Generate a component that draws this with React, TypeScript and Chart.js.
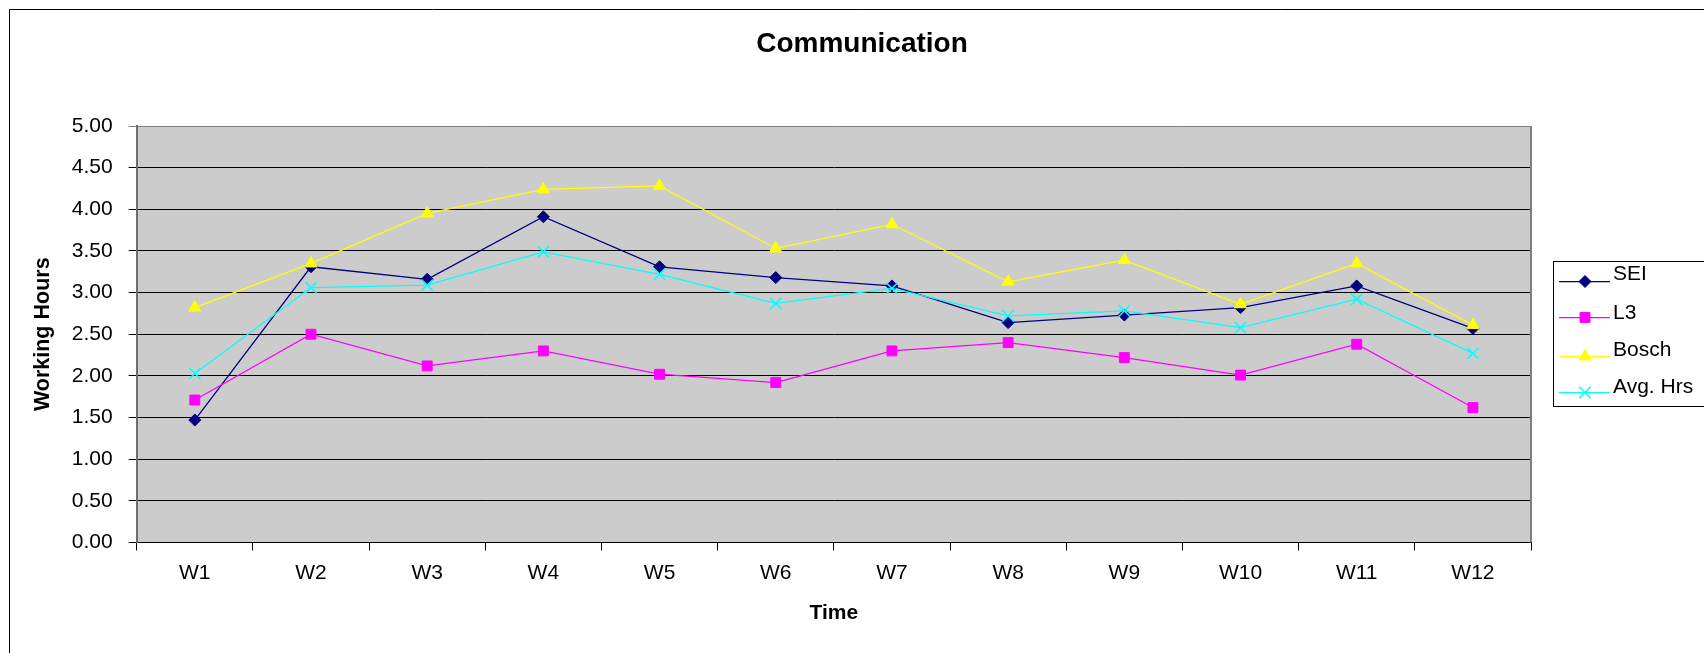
import React, { useEffect, useRef } from 'react';
import { Chart, registerables } from 'chart.js';
import { drawPoint } from 'chart.js/helpers';

Chart.register(...registerables);

const FONT = '"Liberation Sans", Arial, Helvetica, sans-serif';

const chartTitle = 'Communication';
const weeks = ['W1', 'W2', 'W3', 'W4', 'W5', 'W6', 'W7', 'W8', 'W9', 'W10', 'W11', 'W12'];
const seiHours = [1.47, 3.31, 3.16, 3.91, 3.31, 3.18, 3.08, 2.64, 2.73, 2.82, 3.08, 2.57];
const l3Hours = [1.71, 2.5, 2.12, 2.3, 2.02, 1.92, 2.3, 2.4, 2.22, 2.01, 2.38, 1.62];
const boschHours = [2.82, 3.35, 3.95, 4.24, 4.28, 3.53, 3.82, 3.13, 3.39, 2.86, 3.35, 2.61];
const avgHours = [2.03, 3.06, 3.09, 3.49, 3.22, 2.87, 3.05, 2.72, 2.78, 2.58, 2.92, 2.27];
const yTickValues = [0, 0.5, 1, 1.5, 2, 2.5, 3, 3.5, 4, 4.5, 5];
const seriesNames = ['SEI', 'L3', 'Bosch', 'Avg. Hrs'];

const COLORS = ['#000080', '#FF00FF', '#FFFF00', '#00FFFF'];
const STYLES = ['rectRot', 'rect', 'triangle', 'crossRot'];
const RADII = [6, 7, 7, 8];

const chromePlugin = {
  id: 'excelChrome',
  beforeDraw(chart: any) {
    const { ctx, chartArea } = chart;
    ctx.save();
    ctx.fillStyle = '#FFFFFF';
    ctx.fillRect(0, 0, chart.width, chart.height);
    ctx.fillStyle = '#CCCCCC';
    ctx.fillRect(chartArea.left, chartArea.top, chartArea.right - chartArea.left, chartArea.bottom - chartArea.top);
    ctx.restore();
  },
  afterDraw(chart: any) {
    const { ctx, chartArea } = chart;
    ctx.save();
    // plot right border
    ctx.strokeStyle = '#808080';
    ctx.lineWidth = 2;
    ctx.beginPath();
    ctx.moveTo(Math.round(chartArea.right), chartArea.top);
    ctx.lineTo(Math.round(chartArea.right), chartArea.bottom);
    ctx.stroke();
    // outer chart border (top and left visible)
    ctx.strokeStyle = '#000000';
    ctx.lineWidth = 1;
    ctx.beginPath();
    ctx.moveTo(9.5, chart.height + 10);
    ctx.lineTo(9.5, 9.5);
    ctx.lineTo(chart.width + 10, 9.5);
    ctx.stroke();
    // chart title
    ctx.fillStyle = '#000000';
    ctx.font = `bold 28px ${FONT}`;
    ctx.textAlign = 'center';
    ctx.textBaseline = 'middle';
    ctx.fillText(chartTitle, 862, 44);
    // legend box
    const boxLeft = 1553.5;
    const boxTop = 261.5;
    const boxBottom = 406.5;
    ctx.strokeStyle = '#000000';
    ctx.lineWidth = 1;
    ctx.strokeRect(boxLeft, boxTop, chart.width + 20 - boxLeft, boxBottom - boxTop);
    const lineYs = [281, 317, 356, 392];
    const textYs = [274, 313, 350, 387];
    chart.data.datasets.forEach((ds: any, i: number) => {
      const ly = lineYs[i];
      ctx.strokeStyle = ds.borderColor;
      ctx.lineWidth = 1.25;
      ctx.beginPath();
      ctx.moveTo(1559, ly + 0.5);
      ctx.lineTo(1610, ly + 0.5);
      ctx.stroke();
      ctx.fillStyle = ds.pointBackgroundColor;
      ctx.strokeStyle = ds.pointBorderColor;
      ctx.lineWidth = ds.pointBorderWidth;
      drawPoint(ctx, { pointStyle: ds.pointStyle, rotation: 0, radius: ds.pointRadius, borderWidth: ds.pointBorderWidth }, 1585, ly + 0.5);
      ctx.fillStyle = '#000000';
      ctx.font = `21px ${FONT}`;
      ctx.textAlign = 'left';
      ctx.textBaseline = 'middle';
      ctx.fillText(ds.label, 1613, textYs[i]);
    });
    ctx.restore();
  },
};

function makeDataset(i: number, data: number[]) {
  return {
    label: seriesNames[i],
    data,
    borderColor: COLORS[i],
    backgroundColor: COLORS[i],
    borderWidth: 1.25,
    pointStyle: STYLES[i],
    pointRadius: RADII[i],
    pointBackgroundColor: COLORS[i],
    pointBorderColor: COLORS[i],
    pointBorderWidth: i === 3 ? 1.5 : 1,
    tension: 0,
    fill: false,
    order: 3 - i,
  };
}

export default function App() {
  const canvasRef = useRef<HTMLCanvasElement | null>(null);

  useEffect(() => {
    if (!canvasRef.current) return;
    const chart = new Chart(canvasRef.current, {
      type: 'line',
      data: {
        labels: weeks,
        datasets: [
          makeDataset(0, seiHours),
          makeDataset(1, l3Hours),
          makeDataset(2, boschHours),
          makeDataset(3, avgHours),
        ],
      },
      plugins: [chromePlugin],
      options: {
        responsive: false,
        animation: false,
        devicePixelRatio: 1,
        events: [],
        layout: { padding: { left: 10, right: 173, top: 126, bottom: 0 } },
        plugins: {
          legend: { display: false },
          tooltip: { enabled: false },
          title: { display: false },
        },
        scales: {
          x: {
            type: 'category',
            offset: true,
            grid: {
              offset: true,
              drawOnChartArea: false,
              drawTicks: true,
              tickLength: 8,
              color: '#000000',
              lineWidth: 1,
            },
            border: { display: true, color: '#000000', width: 1 },
            ticks: {
              color: '#000000',
              font: { family: FONT, size: 21, lineHeight: 1.2 },
              padding: 10.4,
              maxRotation: 0,
              autoSkip: false,
            },
            title: {
              display: true,
              text: 'Time',
              color: '#000000',
              font: { family: FONT, size: 21, weight: 'bold', lineHeight: 1.2 },
              padding: { top: 0, bottom: 27.4 },
            },
            afterFit: (s: any) => {
              s.height = 110.5;
            },
          },
          y: {
            type: 'linear',
            min: 0,
            max: 5,
            afterBuildTicks: (s: any) => {
              s.ticks = yTickValues.map((v) => ({ value: v }));
            },
            ticks: {
              color: '#000000',
              font: { family: FONT, size: 21, lineHeight: 1.2 },
              padding: 16,
              callback: (v: any) => Number(v).toFixed(2),
            },
            grid: {
              color: (c: any) => (c.tick && c.tick.value === 5 ? '#808080' : '#000000'),
              lineWidth: 1,
              tickLength: 8,
              drawTicks: true,
            },
            border: { display: true, color: '#6E6E6E', width: 2 },
            title: {
              display: true,
              text: 'Working Hours',
              color: '#000000',
              font: { family: FONT, size: 21.5, weight: 'bold', lineHeight: 1.2 },
              padding: { top: 20.4, bottom: 0 },
            },
            afterFit: (s: any) => {
              s.width = 126.7;
            },
          },
        },
      } as any,
    });
    return () => chart.destroy();
  }, []);

  return (
    <div style={{ position: 'fixed', left: 0, top: 0, width: 1704, height: 653, background: '#fff' }}>
      <canvas ref={canvasRef} width={1704} height={653} style={{ display: 'block' }} />
    </div>
  );
}
